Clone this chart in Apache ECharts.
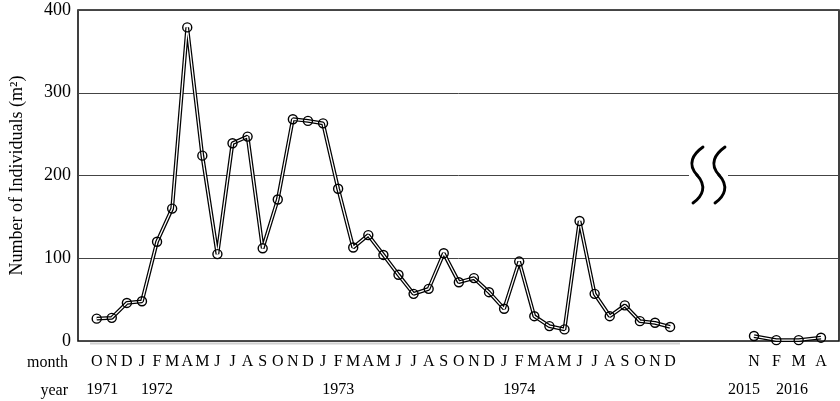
<!DOCTYPE html>
<html><head><meta charset="utf-8">
<script src="https://cdn.jsdelivr.net/npm/echarts@6/dist/echarts.min.js"></script>
<style>html,body{margin:0;padding:0;background:#fff}#c{width:840px;height:401px}</style>
</head><body><div id="c"></div>
<script>
const FONT = 'Liberation Serif';

// Oct 1971 – Dec 1974 (monthly)
const monthLabels = ['O','N','D',
  'J','F','M','A','M','J','J','A','S','O','N','D',
  'J','F','M','A','M','J','J','A','S','O','N','D',
  'J','F','M','A','M','J','J','A','S','O','N','D'];
const yearLabels = ['1971','','',
  '','1972','','','','','','','','','','',
  '','1973','','','','','','','','','','',
  '','1974','','','','','','','','','',''];
const counts7174 = [27,28,46,
  48,120,160,379,224,105,239,247,112,171,268,266,
  263,184,113,128,104,80,57,63,106,71,76,59,
  39,96,30,18,14,145,57,30,43,24,22,17];

// Nov 2015 – Apr 2016
const monthLabels2 = ['N','F','M','A'];
const yearLabels2 = ['2015','2016'];
const counts1516 = [6,1,1,4];

const yMin = 0, yMax = 400, yStep = 100;

const chart = echarts.init(document.getElementById('c'), null, {renderer:'canvas'});

const TOP = 10, H = 331;
const hiddenY = (g) => ({type:'value', gridIndex:g, min:yMin, max:yMax, show:false});
const lineBlack = {color:'#000', width:3.8};
const lineWhite = {color:'#fff', width:1.3};
const sym = {color:'rgba(255,255,255,0)', borderColor:'#000', borderWidth:1.4};

function sCurve(dx){
  const st = {stroke:'#000', lineWidth:2.9, fill:null, lineCap:'round'};
  return [
    {type:'bezierCurve', z:11, shape:{x1:703+dx, y1:147, cpx1:693+dx, cpy1:154, cpx2:687+dx, cpy2:164, x2:697+dx, y2:175}, style:st},
    {type:'bezierCurve', z:11, shape:{x1:697+dx, y1:175, cpx1:707+dx, cpy1:186, cpx2:703+dx, cpy2:196, x2:693+dx, y2:203}, style:st}
  ];
}

chart.setOption({
  animation:false,
  backgroundColor:'#fff',
  textStyle:{fontFamily:FONT, color:'#000'},
  grid:[
    {left:78, width:761, top:TOP, height:H, show:true, borderColor:'#111', borderWidth:1.6, backgroundColor:'#fff'},
    {left:96.7, width:573.4, top:TOP, height:H},
    {left:754, width:67, top:TOP, height:H},
    {left:744, width:48, top:TOP, height:H}
  ],
  xAxis:[
    {type:'value', gridIndex:0, min:0, max:1, show:false},
    {type:'category', gridIndex:1, data:monthLabels, boundaryGap:false,
      axisLine:{show:false}, axisTick:{show:false},
      axisLabel:{interval:0, margin:13, fontSize:16, fontFamily:FONT, color:'#000'}},
    {type:'category', gridIndex:1, data:yearLabels, boundaryGap:false, position:'bottom', offset:28,
      axisLine:{show:false}, axisTick:{show:false},
      axisLabel:{interval:0, margin:13, fontSize:16, fontFamily:FONT, color:'#000',
        formatter:(v)=> v==='1971' ? '{s|'+v+'}' : v,
        rich:{s:{fontSize:16, fontFamily:FONT, color:'#000', padding:[0,0,0,11]}}}},
    {type:'category', gridIndex:2, data:monthLabels2, boundaryGap:false,
      axisLine:{show:false}, axisTick:{show:false},
      axisLabel:{interval:0, margin:13, fontSize:16, fontFamily:FONT, color:'#000'}},
    {type:'category', gridIndex:3, data:yearLabels2, boundaryGap:false, offset:28,
      axisLine:{show:false}, axisTick:{show:false},
      axisLabel:{interval:0, margin:13, fontSize:16, fontFamily:FONT, color:'#000'}}
  ],
  yAxis:[
    {type:'value', gridIndex:0, min:yMin, max:yMax, interval:yStep,
      name:'Number of Individuals (m²)', nameLocation:'middle', nameGap:52,
      nameTextStyle:{fontSize:18, fontFamily:FONT, color:'#000'},
      axisLine:{show:false}, axisTick:{show:false},
      axisLabel:{margin:7, fontSize:18, fontFamily:FONT, color:'#000'},
      splitLine:{show:true, lineStyle:{color:'#444', width:1}}},
    hiddenY(1), hiddenY(2), hiddenY(3)
  ],
  series:[
    {type:'line', xAxisIndex:1, yAxisIndex:1, data:counts7174, showSymbol:false, lineStyle:lineBlack, z:3, silent:true},
    {type:'line', xAxisIndex:1, yAxisIndex:1, data:counts7174, symbol:'circle', symbolSize:9, showAllSymbol:true,
      lineStyle:lineWhite, itemStyle:sym, z:4, silent:true},
    {type:'line', xAxisIndex:3, yAxisIndex:2, data:counts1516, showSymbol:false, lineStyle:lineBlack, z:3, silent:true},
    {type:'line', xAxisIndex:3, yAxisIndex:2, data:counts1516, symbol:'circle', symbolSize:9, showAllSymbol:true,
      lineStyle:lineWhite, itemStyle:sym, z:4, silent:true}
  ],
  graphic:[
    {type:'line', z:1, shape:{x1:90, y1:343.5, x2:680, y2:343.5}, style:{stroke:'#cfcfcf', lineWidth:2}},
    {type:'text', z:10, style:{text:'month', x:68, y:363, align:'right', verticalAlign:'middle',
      font:'16px "Liberation Serif"', fill:'#000'}},
    {type:'text', z:10, style:{text:'year', x:68, y:391, align:'right', verticalAlign:'middle',
      font:'16px "Liberation Serif"', fill:'#000'}},
    {type:'rect', z:10, shape:{x:689, y:170, width:39, height:10}, style:{fill:'#fff'}}
  ].concat(sCurve(0), sCurve(22))
});
</script></body></html>
